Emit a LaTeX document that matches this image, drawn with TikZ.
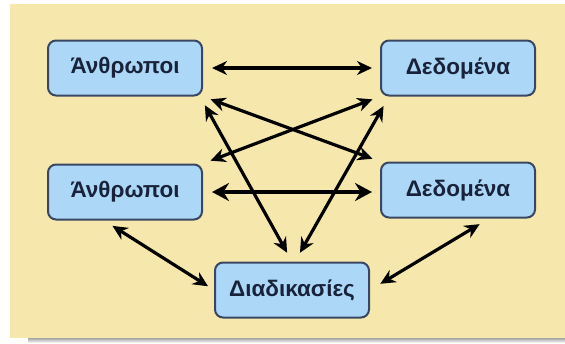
\documentclass[tikz,border=0pt]{standalone}
\usepackage{fontspec}
\setmainfont{Liberation Sans}
\usetikzlibrary{arrows.meta}
\definecolor{paper}{HTML}{F6E8AC}
\definecolor{shade}{HTML}{A4A4A4}
\definecolor{boxfill}{HTML}{ADD7F6}
\definecolor{boxline}{HTML}{3A4764}
\definecolor{ink}{HTML}{18223A}
\tikzset{
  unit/.style={draw=boxline,fill=boxfill,line width=2pt,rounded corners=8pt,
    minimum width=154pt,minimum height=55pt,inner sep=0pt,text=ink,
    font=\fontsize{22.5}{26}\selectfont\bfseries},
  link/.style={{Stealth[length=15pt,width=14pt]}-{Stealth[length=15pt,width=14pt]},
    draw=black,line width=3.2pt},
  biglink/.style={{Stealth[length=17pt,width=18pt]}-{Stealth[length=17pt,width=18pt]},
    draw=black,line width=4.6pt}
}
\begin{document}
\begin{tikzpicture}[x=1pt,y=-1pt]
  \useasboundingbox (0,0) rectangle (565,343);
  \fill[shade] (28,336) rectangle (565,343);
  \fill[paper] (10,4) rectangle (565,338);
  % boxes
  \node[unit] (man1) at (125,68) {Άνθρωποι};
  \node[unit] (data1) at (458,68) {Δεδομένα};
  \node[unit] (man2) at (125,192) {Άνθρωποι};
  \node[unit] (data2) at (458,190) {Δεδομένα};
  \node[unit] (proc) at (292,290) {Διαδικασίες};
  % links
  \draw[link,shorten <=9pt,shorten >=8pt] (man1.east) -- (data1.west);
  \draw[biglink,shorten <=9pt,shorten >=8pt] (man2.east) -- (data2.west |- man2.east);
  \draw[link,shorten <=8pt,shorten >=8pt] (man1.south east) -- (data2.north west);
  \draw[link,shorten <=8pt,shorten >=8pt] (data1.south west) -- (man2.north east);
  \draw[link,shorten <=10pt,shorten >=10pt] ([xshift=-3pt]man1.south east) -- (proc.north);
  \draw[link,shorten <=11pt,shorten >=10pt] ([xshift=9pt]data1.south west) -- ([xshift=3pt]proc.north);
  \draw[link,shorten <=10pt,shorten >=7pt] ([xshift=-21pt]man2.south) -- (proc.west);
  \draw[link,shorten <=11pt,shorten >=12pt] ([xshift=31pt]data2.south) -- (proc.east);
\end{tikzpicture}
\end{document}
